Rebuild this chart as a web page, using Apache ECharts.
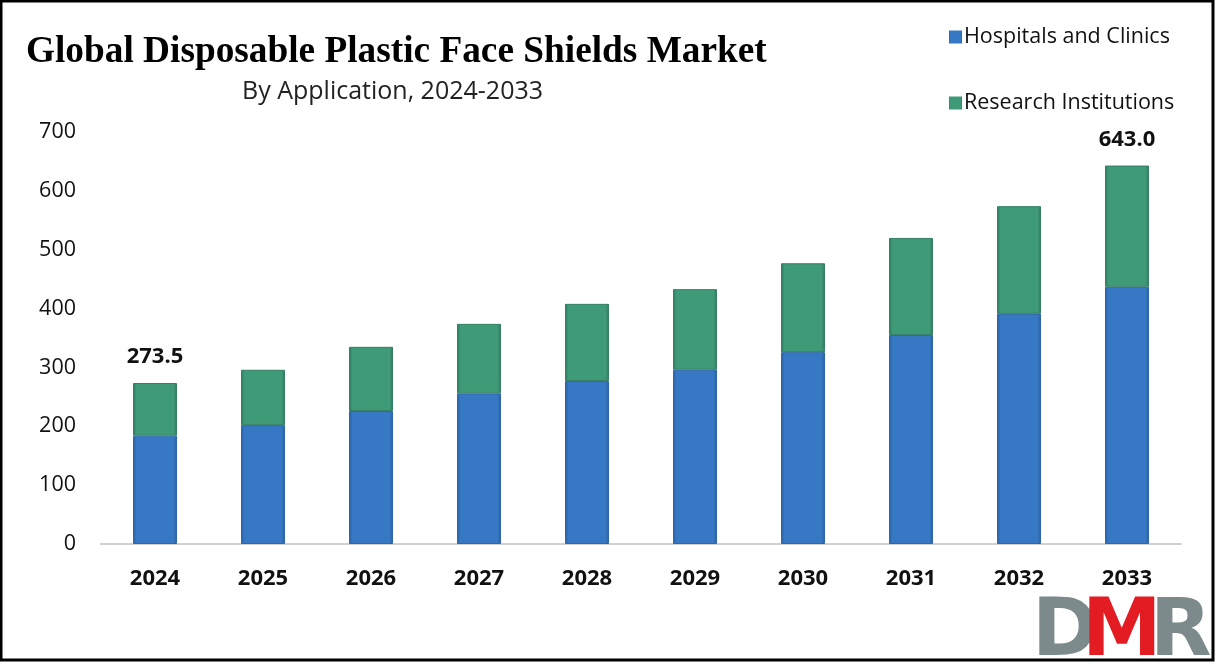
<!DOCTYPE html>
<html><head><meta charset="utf-8">
<script src="https://cdn.jsdelivr.net/npm/echarts@6/dist/echarts.min.js"></script>
<style>html,body{margin:0;padding:0;background:#fff}#c{width:1216px;height:663px}</style>
</head><body><div id="c"></div>
<script>
const years = ['2024','2025','2026','2027','2028','2029','2030','2031','2032','2033'];
const hospitals = [184, 202, 226, 256, 277, 296, 326, 355, 391, 437];
const research = [89.5, 94, 109, 118, 131, 137, 151, 165, 183, 206];
const totalLabels = ['273.5', '', '', '', '', '', '', '', '', '643.0'];
const yTicks = [0, 100, 200, 300, 400, 500, 600, 700];

function grad(c1, c2) {
  return new echarts.graphic.LinearGradient(0, 0, 1, 0, [
    {offset: 0, color: c2}, {offset: 0.08, color: c1}, {offset: 0.92, color: c1}, {offset: 1, color: c2}
  ]);
}
const chart = echarts.init(document.getElementById('c'), null, {renderer: 'canvas'});
chart.setOption({
  backgroundColor: '#fff',
  animation: false,
  title: [
    {text: 'Global Disposable Plastic Face Shields Market', left: 21, top: 29,
     textStyle: {fontFamily: 'Liberation Serif', fontWeight: 'bold', fontSize: 37.3, color: '#000'}},
    {text: 'By Application, 2024-2033', left: 237, top: 74,
     textStyle: {fontFamily: 'Open Sans', fontWeight: 'normal', fontSize: 25, color: '#222'}}
  ],
  legend: {
    orient: 'vertical', left: 944, top: 21, itemGap: 44, itemWidth: 13, itemHeight: 13,
    icon: 'rect', itemStyle: {borderWidth: 0},
    textStyle: {fontFamily: 'Open Sans', fontSize: 21.5, color: '#111', padding: [0, 0, 0, -3]},
    data: ['Hospitals and Clinics', 'Research Institutions']
  },
  grid: {left: 101, right: 35, top: 132, bottom: 119, containLabel: false},
  xAxis: {
    type: 'category', data: years,
    axisLine: {lineStyle: {color: '#d0d0d0', width: 2}},
    axisTick: {show: false},
    axisLabel: {fontFamily: 'Open Sans', fontWeight: 'bold', fontSize: 22, color: '#111', margin: 24}
  },
  yAxis: {
    type: 'value', min: yTicks[0], max: yTicks[yTicks.length - 1], interval: 100,
    splitLine: {show: false}, axisLine: {show: false}, axisTick: {show: false},
    axisLabel: {fontFamily: 'Open Sans', fontSize: 21.5, color: '#111', margin: 25}
  },
  series: [
    {name: 'Hospitals and Clinics', type: 'bar', stack: 's', barWidth: 44,
     data: hospitals,
     itemStyle: {color: grad('#3678c4', '#2a5f9e'), borderColor: '#2d67a8', borderWidth: 1}},
    {name: 'Research Institutions', type: 'bar', stack: 's', barWidth: 44,
     data: research.map((v, i) => ({
       value: v,
       label: {show: totalLabels[i] !== '', formatter: totalLabels[i], position: 'top', distance: 15,
               fontFamily: 'Open Sans', fontWeight: 'bold', fontSize: 22, color: '#111'}
     })),
     itemStyle: {color: grad('#3f9a78', '#2f7a5e'), borderColor: '#357f63', borderWidth: 1}}
  ],
  graphic: [
    {type: 'rect', shape: {x: 1, y: 1, width: 1212, height: 659}, style: {fill: 'none', stroke: '#000', lineWidth: 3}, z: 100},
    {type: 'text', left: 1032, top: 594, style: {text: 'D', fontFamily: 'DejaVu Sans', fontWeight: 'bold', fontSize: 80, fill: '#7d8a8c'}},
    {type: 'text', left: 1082, top: 594, style: {text: 'M', fontFamily: 'DejaVu Sans', fontWeight: 'bold', fontSize: 80, fill: '#e31b23'}},
    {type: 'text', left: 1150, top: 594, style: {text: 'R', fontFamily: 'DejaVu Sans', fontWeight: 'bold', fontSize: 80, fill: '#7d8a8c'}}
  ]
});
</script></body></html>
